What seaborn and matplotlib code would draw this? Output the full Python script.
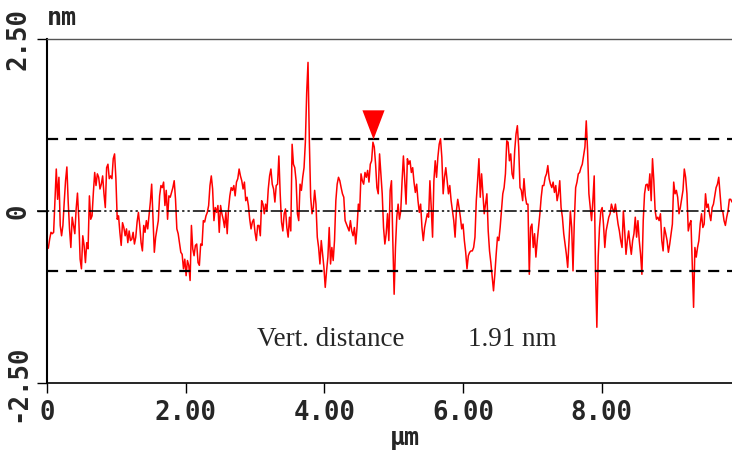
import numpy as np
import pandas as pd
import matplotlib
matplotlib.use("Agg")
import matplotlib.pyplot as plt
import seaborn as sns

# section profile, heights in nm left to right
seg1 = [-0.55, -0.54, -0.41, -0.31, -0.33, -0.31, 0.17, 0.61, 0.17, 0.49,
        -0.21, -0.36, -0.21, 0.13, 0.44, 0.64, 0.13, -0.26, -0.53, -0.09,
        -0.21, -0.33, 0.03, 0.26, -0.12, -0.70, -0.84, -0.36, -0.50, -0.75,
        -0.46, -0.55, 0.22, -0.12, -0.07, 0.27, 0.56, 0.37, 0.54, 0.49,
        0.32, 0.39, 0.51, 0.25, 0.05, 0.63, 0.68, 0.47, 0.51, 0.47,
        0.76, 0.83, 0.47, -0.12, -0.07, -0.31, -0.50, -0.17, -0.24, -0.36,
        -0.26, -0.46, -0.29, -0.43, -0.41, -0.31, -0.48, -0.38, -0.16, -0.02,
        -0.21, -0.46, -0.58, -0.21, -0.31, -0.14, -0.26, -0.07, 0.13, 0.39,
        -0.12, -0.60, -0.38, -0.26, -0.14, 0.22, 0.37]
seg2 = [0.34, 0.42, 0.08, 0.30, -0.12, 0.22, 0.20, 0.27, 0.34, 0.44,
        0.17, -0.26, -0.33, -0.46, -0.60, -0.63, -0.84, -0.70, -0.94, -0.72,
        -0.79, -1.01, -0.21, -0.55, -0.65, -0.50, -0.48, -0.75, -0.79, -0.48,
        -0.50, -0.14, -0.16, -0.07, -0.02, 0.08, 0.37, 0.51, 0.32, -0.14,
        0.05, -0.02, 0.08, -0.31, 0.08, -0.04, -0.12, -0.24, -0.02, -0.33,
        0.03, 0.22, 0.34, 0.30, 0.37, 0.22, 0.42, 0.47, 0.61, 0.51,
        0.44, 0.32, 0.42, 0.15, 0.20, 0.08, -0.12, -0.26, -0.16, -0.12,
        -0.31, -0.43, -0.21, -0.21, -0.36, 0.15, 0.10, -0.04, 0.10, 0.00,
        0.32, 0.51, 0.61, 0.39, 0.32, 0.13, 0.37]
seg3 = [0.39, 0.80, 0.25, -0.16, -0.29, -0.04, 0.03, -0.24, -0.38, -0.09,
        -0.29, 0.97, 0.68, 0.63, 0.44, -0.04, -0.14, 0.39, 0.30, 0.49,
        0.63, 1.00, 1.72, 2.16, 1.02, 0.20, -0.04, 0.05, 0.30, 0.10,
        -0.38, -0.53, -0.77, -0.43, -0.62, -0.82, -1.11, -0.87, -0.67, -0.24,
        -0.77, -0.53, -0.72, -0.43, 0.15, 0.39, 0.49, 0.44, 0.34, 0.25,
        0.20, -0.14, -0.19, -0.24, -0.29, -0.14, -0.29, -0.36, -0.24, -0.48,
        -0.24, 0.10, 0.00, 0.54, 0.44, 0.39, 0.56, 0.49, 0.59, 0.42,
        0.68, 0.73, 1.00, 0.93, 0.68, 0.34, 0.25, 0.83, 0.54, 0.25,
        -0.24, -0.48, -0.33, -0.04, -0.43, 0.30, 0.44]
seg4 = [-0.43, -1.21, -0.53, -0.09, 0.10, -0.12, 0.00, 0.44, 0.80, 0.44,
        0.10, 0.76, 0.68, 0.73, 0.56, 0.63, 0.42, 0.27, 0.39, 0.15,
        -0.02, 0.10, -0.24, -0.43, -0.24, -0.14, -0.04, -0.09, 0.44, 0.05,
        -0.38, 0.44, 0.73, 0.49, 0.78, 0.97, 1.05, 0.78, 0.25, 0.49,
        0.63, 0.44, 0.25, 0.37, 0.15, 0.00, -0.14, -0.38, 0.00, 0.17,
        0.05, -0.09, -0.26, -0.19, -0.43, -0.60, -0.84, -0.65, -0.60, -0.58,
        -0.58, -0.53, -0.38, 0.15, 0.44, 0.76, 0.20, 0.54, 0.25, -0.04,
        0.10, 0.25, -0.29, -0.58, -0.75, -0.96, -1.16, -0.92, -0.63, -0.38,
        -0.43, -0.24, 0.00, 0.25, 0.34, 0.54, 1.02]
seg5 = [1.00, 0.73, 0.83, 0.54, 0.47, 0.88, 1.12, 1.24, 0.93, 0.34,
        0.30, 0.15, 0.47, 0.22, 0.10, 0.10, -0.92, -0.24, -0.19, -0.53,
        -0.33, -0.67, -0.43, -0.24, -0.04, 0.20, 0.37, 0.37, 0.49, 0.54,
        0.66, 0.47, 0.39, 0.34, 0.42, 0.27, 0.37, 0.15, 0.25, 0.44,
        0.05, -0.09, -0.33, -0.48, -0.63, -0.82, -0.43, 0.00, -0.24, -0.87,
        -0.14, 0.34, 0.42, 0.54, 0.56, 0.63, 0.68, 0.80, 0.93, 1.31,
        0.88, 0.25, 0.05, -0.14, 0.15, 0.51, -0.87, -1.69, -0.67, -0.24,
        0.00, 0.05, -0.19, -0.53, -0.29, -0.19, -0.09, -0.04, 0.10, 0.03,
        -0.02, 0.10, -0.04, -0.19, -0.29, -0.43, -0.53]
seg6 = [0.00, -0.29, -0.63, -0.43, -0.29, -0.48, -0.63, -0.43, -0.33, -0.09,
        -0.38, -0.14, -0.43, -0.63, -0.92, -0.14, 0.25, 0.38, 0.39, 0.30,
        0.54, 0.15, 0.76, 0.44, 0.00, -0.12, -0.09, -0.14, -0.04, -0.43,
        -0.58, -0.24, -0.33, -0.43, -0.60, -0.48, -0.33, -0.19, 0.42, 0.25,
        0.30, 0.20, -0.04, 0.05, 0.17, 0.30, 0.61, 0.49, 0.25, -0.29,
        -0.19, -0.14, -0.77, -1.40, -0.53, -0.67, -0.53, -0.43, -0.19, -0.04,
        -0.24, -0.19, 0.25, 0.05, 0.10, -0.04, -0.14, 0.05, 0.10, 0.22,
        0.34, 0.39, 0.49, 0.25, 0.00, 0.00, -0.14, -0.21, -0.09, 0.00,
        0.17, 0.17, 0.13]

SCAN_LEN = 9.88          # um
upper_cursor = 1.04      # nm
lower_cursor = -0.87     # nm
marker_um = 4.70
vert_dist = "1.91 nm"

x_ticks = [0, 2, 4, 6, 8]
x_labels = ["0", "2.00", "4.00", "6.00", "8.00"]
y_ticks = [-2.5, 0, 2.5]
y_labels = ["-2.50", "0", "2.50"]

heights = np.array(seg1 + seg2 + seg3 + seg4 + seg5 + seg6)
df = pd.DataFrame({"x_um": np.linspace(0, SCAN_LEN, len(heights)),
                   "height_nm": heights})

sns.set_style("white")
plt.rcParams['font.family'] = ['DejaVu Sans Mono']
plt.rcParams['font.weight'] = 'bold'

W, H = 732, 455
fig = plt.figure(figsize=(W / 100, H / 100), dpi=100)
ax = fig.add_axes([47 / W, 1 - 383 / H, 1 - 47 / W, (383 - 39) / H])

sns.lineplot(data=df, x="x_um", y="height_nm", color="red", lw=1.1,
             estimator=None, ax=ax, zorder=2)

ax.axhline(upper_cursor, color="black", lw=1.6, ls=(0, (5, 3.5)), zorder=3)
ax.axhline(lower_cursor, color="black", lw=1.6, ls=(0, (5, 3.5)), zorder=3)
ax.axhline(0, xmin=-0.015, color="black", lw=1.1,
           ls=(0, (8, 2, 1.5, 2, 1.5, 2)), clip_on=False, zorder=3)

# cursor marker, tip sits on the peak
tri = [(0, 0), (-0.76, 2), (0.76, 2)]
ax.plot([marker_um], [upper_cursor], marker=tri, ms=42, color="red",
        mew=0, ls="none", zorder=4)

ax.text(3.03, -1.875, "Vert. distance", fontsize=19.5, fontweight="normal",
        family="Liberation Serif", va="center", ha="left")
ax.text(6.07, -1.875, vert_dist, fontsize=19.5, fontweight="normal",
        family="Liberation Serif", va="center", ha="left")

ax.set_xlim(0, SCAN_LEN)
ax.set_ylim(-2.5, 2.5)
ax.set_xticks(x_ticks)
ax.set_xticklabels(x_labels)
ax.set_yticks(y_ticks)
ax.set_yticklabels(y_labels, rotation=90, va="center")
ax.tick_params(axis="both", direction="out", length=7.5, width=1,
               labelsize=18.5, color="black")
ax.tick_params(axis="x", bottom=True, pad=5)
ax.tick_params(axis="y", left=True, pad=4)

ax.set_xlabel("μm", fontsize=18, fontweight="bold")
ax.xaxis.set_label_coords((405 - 47) / 685, -0.16)
ax.xaxis.label.set_va("center")
ax.set_ylabel("")
fig.text(47 / W, 1 - 18 / H, "nm", fontsize=18, fontweight="bold",
         va="center", ha="left")

ax.spines["right"].set_visible(False)
ax.spines["top"].set_color("#555555")
ax.spines["top"].set_linewidth(1)
ax.spines["left"].set_color("black")
ax.spines["left"].set_linewidth(1.5)
ax.spines["bottom"].set_color("black")
ax.spines["bottom"].set_linewidth(1.2)

fig.savefig("out.png", dpi=100)
